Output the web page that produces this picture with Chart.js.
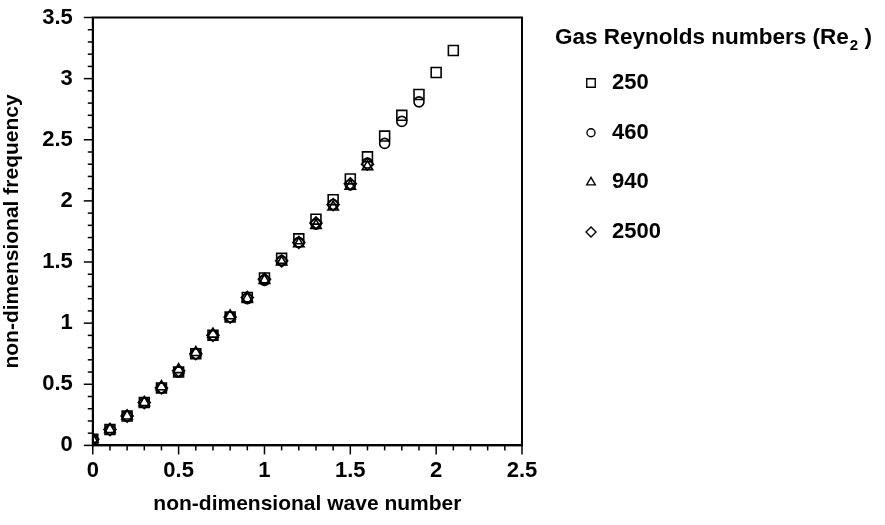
<!DOCTYPE html>
<html>
<head>
<meta charset="utf-8">
<script src="https://cdn.jsdelivr.net/npm/chart.js@4/dist/chart.umd.min.js"></script>
<style>
  body { margin: 0; background: #fff; }
  #wrap { width: 885px; height: 525px; }
</style>
</head>
<body>
<div id="wrap"><canvas id="myChart" width="885" height="525"></canvas></div>
<script>
// wave numbers (x) and frequencies
const waveNumber = [0, 0.1, 0.2, 0.3, 0.4, 0.5, 0.6, 0.7, 0.8, 0.9, 1.0, 1.1, 1.2, 1.3, 1.4, 1.5, 1.6, 1.7, 1.8, 1.9, 2.0, 2.1]
const re250 = [0.05, 0.13, 0.24, 0.35, 0.47, 0.60, 0.75, 0.90, 1.05, 1.21, 1.37, 1.53, 1.69, 1.85, 2.01, 2.18, 2.36, 2.53, 2.70, 2.87, 3.05, 3.23]
const re460 = [0.05, 0.13, 0.24, 0.35, 0.47, 0.60, 0.75, 0.90, 1.05, 1.20, 1.35, 1.51, 1.66, 1.81, 1.97, 2.13, 2.31, 2.47, 2.65, 2.81]
const re940 = [0.05, 0.13, 0.24, 0.35, 0.48, 0.62, 0.76, 0.91, 1.06, 1.20, 1.35, 1.50, 1.65, 1.80, 1.95, 2.12, 2.28]
const re2500 = [0.05, 0.13, 0.24, 0.35, 0.47, 0.61, 0.75, 0.90, 1.05, 1.21, 1.36, 1.51, 1.66, 1.82, 1.97, 2.14, 2.30]

const seriesLabels = ['250', '460', '940', '2500']
const legendTitle = 'Gas Reynolds numbers (Re'

const FONT = "'Liberation Sans', Arial, sans-serif"

const toPoints = (vals) => vals.map((v, i) => ({ x: waveNumber[i], y: v }))

const styles = [
    { pointStyle: 'rect', pointRadius: 7 },
    { pointStyle: 'circle', pointRadius: 5 },
    { pointStyle: 'triangle', pointRadius: 6 },
    { pointStyle: 'rectRot', pointRadius: 6 },
]

const allSeries = [re250, re460, re940, re2500]

const datasets = allSeries.map((s, i) => ({
    label: seriesLabels[i],
    data: toPoints(s),
    pointStyle: styles[i].pointStyle,
    pointRadius: styles[i].pointRadius,
    borderColor: '#000',
    backgroundColor: 'rgba(255,255,255,0)',
    borderWidth: 1.6,
    showLine: false,
}))

const tickLabel = (v) => String(+Number(v).toFixed(1))

// frame, minor ticks and legend
const framePlugin = {
    id: 'frame',
    afterDraw(chart) {
        const ctx = chart.ctx
        const a = chart.chartArea
        const xs = chart.scales.x
        const ys = chart.scales.y
        ctx.save()
        ctx.strokeStyle = '#000'
        ctx.lineWidth = 2
        ctx.strokeRect(a.left, a.top, a.right - a.left, a.bottom - a.top)

        ctx.lineWidth = 1.5
        for (let i = 0; i <= 25; i++) {
            const px = xs.getPixelForValue(i / 10)
            const len = i % 5 === 0 ? 9 : 5
            ctx.beginPath()
            ctx.moveTo(px, a.bottom)
            ctx.lineTo(px, a.bottom + len)
            ctx.stroke()
        }
        for (let i = 0; i <= 35; i++) {
            const py = ys.getPixelForValue(i / 10)
            const len = i % 5 === 0 ? 9 : 5
            ctx.beginPath()
            ctx.moveTo(a.left, py)
            ctx.lineTo(a.left - len, py)
            ctx.stroke()
        }

        // legend
        ctx.fillStyle = '#000'
        ctx.textBaseline = 'middle'
        ctx.textAlign = 'left'
        ctx.font = `bold 22.5px ${FONT}`
        let tx = 555
        ctx.fillText(legendTitle, tx, 38)
        tx += ctx.measureText(legendTitle).width
        ctx.font = `bold 15px ${FONT}`
        ctx.fillText('2', tx + 1, 46)
        tx += ctx.measureText('2').width + 1
        ctx.font = `bold 22.5px ${FONT}`
        ctx.fillText(' )', tx, 38)

        seriesLabels.forEach((lab, i) => {
            const y = 83 + i * 49.7
            ctx.lineWidth = 1.4
            ctx.strokeStyle = '#000'
            ctx.fillStyle = '#fff'
            Chart.helpers.drawPoint(ctx, {
                pointStyle: styles[i].pointStyle,
                radius: styles[i].pointStyle === 'rect' ? 6 : (styles[i].pointStyle === 'circle' ? 4 : 5),
                rotation: 0,
                borderWidth: 1.4
            }, 591, y)
            ctx.fillStyle = '#000'
            ctx.font = `bold 22px ${FONT}`
            ctx.fillText(lab, 612, y)
        })
        ctx.restore()
    }
}

const ctx = document.getElementById('myChart')

new Chart(ctx, {
    type: 'scatter',
    data: { datasets: datasets },
    options: {
        responsive: false,
        animation: false,
        layout: { padding: { left: 0, top: 2, right: 363, bottom: 8 } },
        plugins: {
            legend: { display: false },
            tooltip: { enabled: false },
        },
        scales: {
            x: {
                type: 'linear',
                min: 0,
                max: 2.5,
                ticks: { stepSize: 0.5, color: '#000', font: { family: FONT, size: 22, weight: 'bold' }, padding: 4, maxRotation: 0, callback: tickLabel },
                grid: { display: false },
                border: { display: true, color: '#000', width: 2 },
                title: { display: true, text: 'non-dimensional wave number', color: '#000', font: { family: FONT, size: 21, weight: 'bold' }, padding: { top: 4, bottom: 0 } },
            },
            y: {
                type: 'linear',
                min: 0,
                max: 3.5,
                ticks: { stepSize: 0.5, color: '#000', font: { family: FONT, size: 22, weight: 'bold', lineHeight: 0.5 }, padding: 12, callback: tickLabel },
                grid: { display: false },
                border: { display: true, color: '#000', width: 2 },
                title: { display: true, text: 'non-dimensional frequency', color: '#000', font: { family: FONT, size: 21, weight: 'bold' }, padding: { top: 0, bottom: 5 } },
            },
        },
    },
    plugins: [framePlugin],
})
</script>
</body>
</html>
